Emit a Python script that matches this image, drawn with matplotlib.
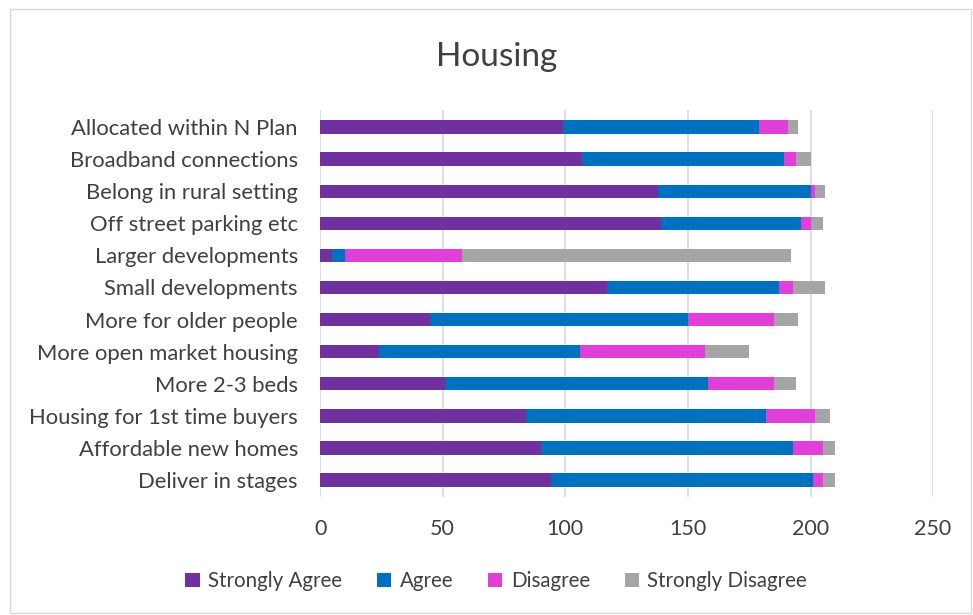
import numpy as np
import matplotlib.pyplot as plt
from matplotlib.patches import Rectangle

plt.rcParams['font.family'] = ['Lato', 'DejaVu Sans']

# Survey responses per statement (top to bottom as shown)
categories = ['Allocated within N Plan', 'Broadband connections', 'Belong in rural setting',
              'Off street parking etc', 'Larger developments', 'Small developments',
              'More for older people', 'More open market housing', 'More 2-3 beds',
              'Housing for 1st time buyers', 'Affordable new homes', 'Deliver in stages']
strongly_agree = [99, 107, 138, 139, 5, 117, 45, 24, 51, 84, 90, 94]
agree = [80, 82, 62, 57, 5, 70, 105, 82, 107, 98, 103, 107]
disagree = [12, 5, 2, 4, 48, 6, 35, 51, 27, 20, 12, 4]
strongly_disagree = [4, 6, 4, 5, 134, 13, 10, 18, 9, 6, 5, 5]

series = [('Strongly Agree', strongly_agree, '#7030A0'),
          ('Agree', agree, '#0070C0'),
          ('Disagree', disagree, '#E03FD8'),
          ('Strongly Disagree', strongly_disagree, '#A5A5A5')]

fig = plt.figure(figsize=(9.73, 6.15), dpi=100)
ax = fig.add_axes([0.329, 0.192, 0.630, 0.629])

y = np.arange(len(categories))
left = np.zeros(len(categories))
for name, vals, col in series:
    ax.barh(y, vals, left=left, height=0.42, color=col, label=name, zorder=3)
    left += np.array(vals)

ax.set_xlim(0, 250)
ax.set_xticks([0, 50, 100, 150, 200, 250])
ax.set_ylim(-0.53, len(categories) - 0.47)
ax.invert_yaxis()
ax.set_yticks(y)
ax.set_yticklabels(categories)
ax.grid(axis='x', color='#D9D9D9', linewidth=1.2, zorder=0)
for s in ax.spines.values():
    s.set_visible(False)
ax.tick_params(axis='both', length=0, labelsize=15.5, colors='#404040')
ax.tick_params(axis='y', labelsize=15.8, pad=16)
ax.tick_params(axis='x', pad=16)

fig.suptitle('Housing', x=0.51, y=0.907, fontsize=24, color='#404040', va='center')

handles, labels = ax.get_legend_handles_labels()
fig.legend(handles, labels, loc='center', bbox_to_anchor=(0.51, 0.055), ncol=4,
           frameon=False, fontsize=14.8, handlelength=0.7, handleheight=0.7,
           handletextpad=0.4, columnspacing=1.7, labelcolor='#404040')

fig.patches.append(Rectangle((0.01, 0.003), 0.988, 0.982, transform=fig.transFigure,
                             fill=False, edgecolor='#D9D9D9', linewidth=1))

fig.savefig('out.png', dpi=100)
